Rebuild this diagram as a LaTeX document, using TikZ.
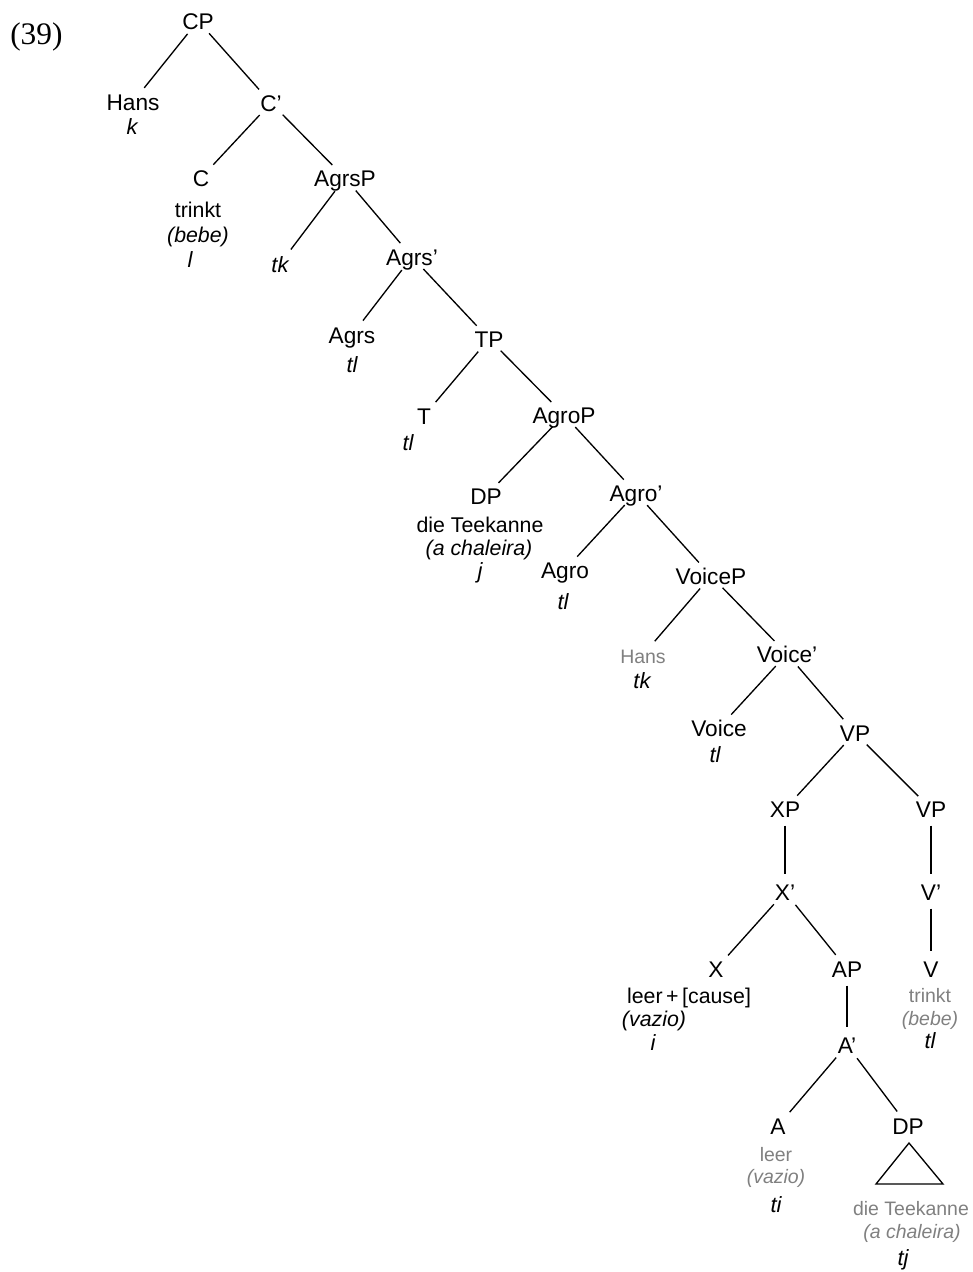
\documentclass[tikz,border=0pt]{standalone}
\usepackage{fontspec}
\setmainfont{Liberation Sans}
\newfontfamily\numfont{Liberation Serif}
\usetikzlibrary{calc}
\definecolor{faded}{gray}{0.5}

\begin{document}
\begin{tikzpicture}[x=0.75pt,y=-0.75pt,
  cat/.style={inner sep=0pt, anchor=base, text height=12.2pt, text depth=0pt,
    font=\fontsize{17}{20}\selectfont},
  word/.style={inner sep=0pt, anchor=base, font=\fontsize{16}{19}\selectfont},
  gloss/.style={inner sep=0pt, anchor=base, font=\fontsize{16}{19}\selectfont\itshape},
  trace/.style={inner sep=0pt, anchor=base, text height=12.2pt, text depth=0pt,
    font=\fontsize{16.5}{19}\selectfont\itshape},
  fword/.style={inner sep=0pt, anchor=base, text=faded, font=\fontsize{14.6}{17}\selectfont},
  fgloss/.style={inner sep=0pt, anchor=base, text=faded, font=\fontsize{14.6}{17}\selectfont\itshape},
  branch/.style={line width=1pt, shorten <=12.5pt, shorten >=13.5pt}]

\useasboundingbox (0,0) rectangle (973,1272);

% example number
\node[inner sep=0pt, anchor=base west, font=\numfont\fontsize{23.5}{27}\selectfont] (num) at (10,44) {(39)};

% CP layer
\node[cat] (CP) at (198,29) {CP};
\node[cat] (Hans) at (133,110) {Hans};
\node[trace] (k) at (132,134) {k};
\node[cat] (Cbar) at (271,111) {C'};
\node[cat] (C) at (201,186) {C};
\node[word] (Cw) at (198,217) {trinkt};
\node[gloss] (Cg) at (198,242) {(bebe)};
\node[trace] (Ci) at (190,267) {l};

% AgrsP
\node[cat] (AgrsP) at (345,186) {AgrsP};
\node[trace] (tk) at (280,272) {tk};
\node[cat] (Agrsbar) at (412,265) {Agrs'};
\node[cat] (Agrs) at (352,343) {Agrs};
\node[trace] (Agrst) at (352,372) {tl};

% TP
\node[cat] (TP) at (489,347) {TP};
\node[cat] (T) at (424,424) {T};
\node[trace] (Tt) at (408,450) {tl};

% AgroP
\node[cat] (AgroP) at (564,423) {AgroP};
\node[cat] (DP) at (486,504) {DP};
\node[word] (DPw) at (480,532) {die Teekanne};
\node[gloss] (DPg) at (479,555) {(a chaleira)};
\node[trace] (DPi) at (480,578) {j};
\node[cat] (Agrobar) at (636,501) {Agro'};
\node[cat] (Agro) at (565,578) {Agro};
\node[trace] (Agrot) at (563,609) {tl};

% VoiceP
\node[cat] (VoiceP) at (711,584) {VoiceP};
\node[cat, text=faded, font=\fontsize{14.6}{17}\selectfont] (HansB) at (643,663) {Hans};
\node[trace] (HansBt) at (642,688) {tk};
\node[cat] (Voicebar) at (787,662) {Voice'};
\node[cat] (Voice) at (719,736) {Voice};
\node[trace] (Voicet) at (715,762) {tl};

% VP shell
\node[cat] (VP) at (855,741) {VP};
\node[cat] (XP) at (785,817) {XP};
\node[cat] (VPb) at (931,817) {VP};
\node[cat] (Xbar) at (785,900) {X'};
\node[cat] (Vbar) at (931,900) {V'};
\node[cat] (X) at (716,977) {X};
\node[word] (Xw) at (689,1003) {leer\,+\,[cause]};
\node[gloss] (Xg) at (654,1026) {(vazio)};
\node[trace] (Xi) at (653,1050) {i};
\node[cat] (AP) at (847,977) {AP};
\node[cat] (V) at (931,977) {V};
\node[fword] (Vw) at (930,1002) {trinkt};
\node[fgloss] (Vg) at (930,1025) {(bebe)};
\node[trace] (Vt) at (930,1048) {tl};

% AP
\node[cat] (Abar) at (847,1053) {A'};
\node[cat] (A) at (778,1134) {A};
\node[fword] (Aw) at (776,1161) {leer};
\node[fgloss] (Ag) at (776,1183) {(vazio)};
\node[trace] (At) at (776,1212) {ti};
\node[cat] (DPb) at (908,1134) {DP};
\node[fword] (DPbw) at (911,1215) {die Teekanne};
\node[fgloss] (DPbg) at (912,1238) {(a chaleira)};
\node[trace] (DPbt) at (903,1265) {tj};

% triangle under the lower DP
\coordinate (tri) at ($(DPb.base)+(1,9)$);
\draw[line width=1pt, line join=miter] (tri) -- ++(-33,41) -- ++(67,0) -- cycle;

% branches
\foreach \p/\c in {CP/Hans, CP/Cbar, Cbar/C, Cbar/AgrsP, AgrsP/tk, AgrsP/Agrsbar,
  Agrsbar/Agrs, Agrsbar/TP, TP/T, TP/AgroP, AgroP/DP, AgroP/Agrobar,
  Agrobar/Agro, Agrobar/VoiceP, VoiceP/HansB, VoiceP/Voicebar,
  Voicebar/Voice, Voicebar/VP, VP/XP, VP/VPb, XP/Xbar, VPb/Vbar,
  Xbar/X, Xbar/AP, Vbar/V, AP/Abar, Abar/A, Abar/DPb}
  \draw[branch] (\p.center) -- (\c.center);

\end{tikzpicture}
\end{document}
